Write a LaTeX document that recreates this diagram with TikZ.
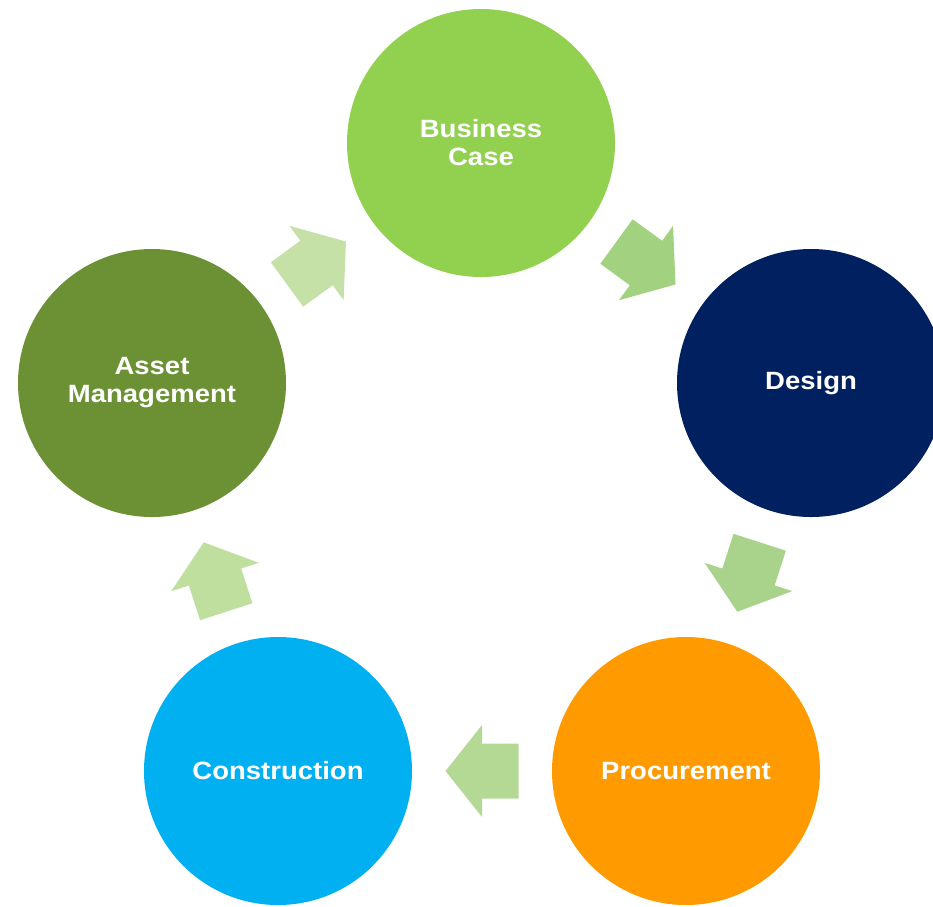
\documentclass[tikz,border=0pt]{standalone}
\usepackage{fontspec}
\newfontfamily\lblfont[FakeStretch=1.1]{Liberation Sans}
\usetikzlibrary{calc}
\definecolor{cBusiness}{HTML}{92D050}
\definecolor{cDesign}{HTML}{002060}
\definecolor{cProc}{HTML}{FF9A00}
\definecolor{cConst}{HTML}{00B0F0}
\definecolor{cAsset}{HTML}{6B9134}
\definecolor{aOne}{HTML}{C6E1A8}
\definecolor{aTwo}{HTML}{A2D180}
\definecolor{aThree}{HTML}{A9D38A}
\definecolor{aFour}{HTML}{B3D995}
\definecolor{aFive}{HTML}{BFDF9F}
\tikzset{
  phase/.style={circle, minimum size=268pt, inner sep=0pt, text=white,
    font=\lblfont\bfseries\fontsize{25}{28}\selectfont, align=center},
}
\newcommand\blockarrow[3]{%
  \path[fill=#3] let \p1=($(#2)-(#1)$), \n1={atan2(\y1,\x1)} in
    [shift={($(#1)!0.5!(#2)$)}, rotate=\n1]
    (36.5,0) -- (0,46) -- (0,27.5) -- (-36.5,27.5) -- (-36.5,-27.5)
    -- (0,-27.5) -- (0,-46) -- cycle;}
\begin{document}
\begin{tikzpicture}[x=1pt,y=-1pt]
\useasboundingbox (0,0) rectangle (933,906);
\clip (0,0) rectangle (933,906);
\node[phase, fill=cBusiness] (bc) at (481,143) {Business\\Case};
\node[phase, fill=cDesign] (de) at (811,383) {Design};
\node[phase, fill=cProc] (pr) at (686,771) {Procurement};
\node[phase, fill=cConst] (co) at (278,771) {Construction};
\node[phase, fill=cAsset] (am) at (152,383) {Asset\\Management};
\blockarrow{am}{bc}{aOne}
\blockarrow{bc}{de}{aTwo}
\blockarrow{de}{pr}{aThree}
\blockarrow{pr}{co}{aFour}
\blockarrow{co}{am}{aFive}
\end{tikzpicture}
\end{document}
